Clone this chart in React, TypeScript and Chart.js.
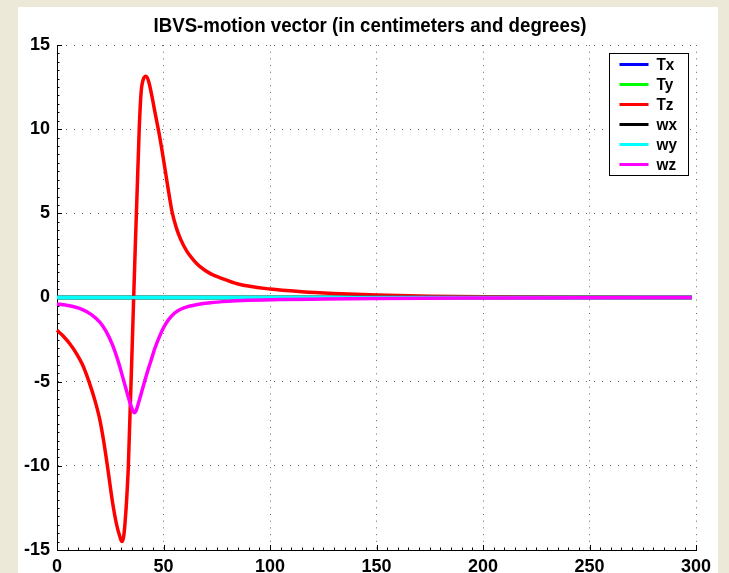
import React, { useEffect, useRef } from "react";
import { Chart, registerables } from "chart.js";

Chart.register(...registerables);

const TITLE = "IBVS-motion vector (in centimeters and degrees)";
const seriesLabels = ["Tx", "Ty", "Tz", "wx", "wy", "wz"];
const seriesColors = ["#0000FF", "#00FF00", "#FF0000", "#000000", "#00FFFF", "#FF00FF"];

const xTickLabels = [0, 50, 100, 150, 200, 250, 300];
const yTickLabels = [-15, -10, -5, 0, 5, 10, 15];

// flat series (Tx, Ty, wx, wy)
const flatX = [0, 298];
const txY = [0, 0];
const tyY = [0, 0];
const wxY = [0, 0];
const wyY = [0, 0];

// Tz
const tzX = [0, 3, 6, 9, 12, 15, 18, 20, 22, 24, 26, 28, 29.5, 30.5, 31.3, 32, 32.8, 33.5, 36, 38.6, 39.5, 40.5, 41.8, 43, 44.5, 46, 48, 50, 52, 54, 56, 58, 61, 64, 67, 72, 77, 85, 100, 115, 130, 150, 175, 200, 250, 298];
const tzY = [-1.95, -2.3, -2.75, -3.3, -4.0, -5.0, -6.2, -7.2, -8.6, -10.3, -12.1, -13.5, -14.2, -14.5, -14.2, -13.3, -11.8, -10, 0, 10, 12.2, 12.95, 13.15, 12.85, 12.0, 11.0, 9.7, 8.2, 6.6, 5.1, 4.15, 3.47, 2.74, 2.24, 1.85, 1.42, 1.15, 0.8, 0.5, 0.34, 0.24, 0.15, 0.08, 0.04, 0.01, 0];

// wz
const wzX = [0, 4, 8, 12, 16, 20, 23, 26, 29, 31, 33, 34.5, 35.5, 36.3, 37.2, 38.3, 40, 42, 44, 46, 48, 50, 52, 55, 58, 62, 66, 72, 80, 90, 105, 125, 150, 200, 250, 298];
const wzY = [-0.38, -0.45, -0.55, -0.72, -1.0, -1.45, -2.0, -2.8, -3.9, -4.8, -5.7, -6.35, -6.7, -6.85, -6.7, -6.25, -5.5, -4.6, -3.8, -3.0, -2.35, -1.8, -1.38, -0.95, -0.7, -0.52, -0.41, -0.31, -0.23, -0.17, -0.12, -0.09, -0.06, -0.03, -0.01, 0];

const seriesX = [flatX, flatX, tzX, flatX, flatX, wzX];
const seriesY = [txY, tyY, tzY, wxY, wyY, wzY];

const FONT = "'Liberation Sans', Arial, Helvetica, sans-serif";

const titlePlugin = {
  id: "condensedTitle",
  afterDraw(chart: any) {
    const { ctx } = chart;
    ctx.save();
    ctx.font = `bold 20px ${FONT}`;
    ctx.textAlign = "center";
    ctx.textBaseline = "middle";
    ctx.fillStyle = "#000";
    const w = ctx.measureText(TITLE).width;
    const target = 433;
    const sx = target / w;
    ctx.translate(352, 19);
    ctx.scale(sx, 1);
    ctx.fillText(TITLE, 0, 0);
    ctx.restore();
  },
};

const minorTicksPlugin = {
  id: "minorTicks",
  beforeDatasetsDraw(chart: any) {
    const { ctx, chartArea: a } = chart;
    const xs = chart.scales.x;
    const ys = chart.scales.y;
    ctx.save();
    ctx.strokeStyle = "#000";
    ctx.lineWidth = 1;
    ctx.beginPath();
    for (let v = ys.min; v <= ys.max + 1e-9; v += 0.5) {
      const y = Math.round(ys.getPixelForValue(v)) + 0.5;
      const major = Math.abs(v % 5) < 1e-9;
      ctx.moveTo(a.left, y);
      ctx.lineTo(a.left + (major ? 5 : 2.5), y);
    }
    for (let v = xs.min; v <= xs.max + 1e-9; v += 5) {
      const x = Math.round(xs.getPixelForValue(v)) + 0.5;
      const major = Math.abs(v % 50) < 1e-9;
      ctx.moveTo(x, a.bottom);
      ctx.lineTo(x, a.bottom - (major ? 5 : 2.5));
    }
    ctx.stroke();
    ctx.restore();
  },
};

const legendPlugin = {
  id: "boxLegend",
  afterDraw(chart: any) {
    const { ctx, chartArea: a } = chart;
    const w = 79;
    const h = 122;
    const x0 = Math.round(a.right - 8 - w) + 0.5;
    const y0 = Math.round(a.top + 8) + 0.5;
    ctx.save();
    ctx.fillStyle = "#fff";
    ctx.fillRect(x0, y0, w, h);
    ctx.strokeStyle = "#000";
    ctx.lineWidth = 1;
    ctx.strokeRect(x0, y0, w, h);
    ctx.font = `bold 17px ${FONT}`;
    ctx.textBaseline = "middle";
    ctx.textAlign = "left";
    chart.data.datasets.forEach((ds: any, i: number) => {
      const y = y0 + 11 + i * 20;
      ctx.strokeStyle = ds.borderColor;
      ctx.lineWidth = 3;
      ctx.beginPath();
      ctx.moveTo(x0 + 10, y);
      ctx.lineTo(x0 + 39, y);
      ctx.stroke();
      ctx.fillStyle = "#000";
      ctx.save();
      ctx.translate(x0 + 47, y + 1);
      ctx.scale(0.9, 1);
      ctx.fillText(ds.label, 0, 0);
      ctx.restore();
    });
    ctx.restore();
  },
};

export default function App() {
  const ref = useRef<HTMLCanvasElement>(null);
  useEffect(() => {
    if (!ref.current) return;
    const datasets = seriesLabels.map((label, i) => ({
      label,
      data: seriesX[i].map((x, j) => ({ x, y: seriesY[i][j] })),
      borderColor: seriesColors[i],
      backgroundColor: seriesColors[i],
      borderWidth: 3.5,
      pointRadius: 0,
      fill: false,
      cubicInterpolationMode: "monotone" as const,
      order: seriesLabels.length - 1 - i,
      clip: false as any,
    }));
    const chart = new Chart(ref.current, {
      type: "line",
      data: { datasets },
      plugins: [minorTicksPlugin, legendPlugin, titlePlugin],
      options: {
        responsive: false,
        animation: false,
        devicePixelRatio: 1,
        layout: { padding: { left: 0, right: 22, top: 38, bottom: 0 } },
        plugins: {
          legend: { display: false },
          tooltip: { enabled: false },
          title: { display: false },
        },
        scales: {
          x: {
            type: "linear",
            min: 0,
            max: 300,
            afterBuildTicks: (s: any) => {
              s.ticks = xTickLabels.map((v) => ({ value: v }));
            },
            afterFit: (s: any) => {
              s.height = 23;
            },
            ticks: {
              color: "#000",
              font: { family: FONT, size: 18, weight: "bold" },
              padding: 6,
              maxRotation: 0,
              autoSkip: false,
            },
            grid: {
              color: "rgba(0,0,0,0.6)",
              lineWidth: 1,
              drawTicks: false,
            },
            border: { display: true, color: "#000", width: 1, dash: [1, 5.7] },
          },
          y: {
            type: "linear",
            min: -15,
            max: 15,
            afterBuildTicks: (s: any) => {
              s.ticks = yTickLabels.map((v) => ({ value: v }));
            },
            afterFit: (s: any) => {
              s.width = 39;
            },
            ticks: {
              color: "#000",
              font: { family: FONT, size: 18, weight: "bold" },
              padding: 7,
              autoSkip: false,
            },
            grid: {
              color: "rgba(0,0,0,0.6)",
              lineWidth: 1,
              drawTicks: false,
            },
            border: { display: true, color: "#000", width: 1, dash: [1, 7] },
          },
        },
      },
    } as any);
    return () => chart.destroy();
  }, []);
  return (
    <div
      style={{
        position: "fixed",
        left: 0,
        top: 0,
        width: 729,
        height: 573,
        background: "#ECE9D8",
        overflow: "hidden",
      }}
    >
      <div
        style={{
          position: "absolute",
          left: 18,
          top: 7,
          width: 700,
          height: 566,
          background: "#fff",
        }}
      >
        <canvas ref={ref} width={700} height={566} style={{ display: "block", width: 700, height: 566 }} />
      </div>
    </div>
  );
}
